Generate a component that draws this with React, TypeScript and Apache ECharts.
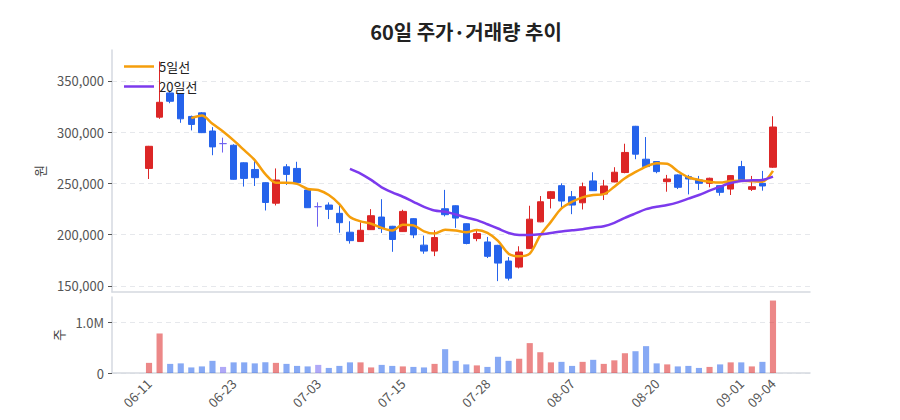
import React from 'react';
import * as echarts from 'echarts';

const dates = [
  '06-11', '06-12', '06-13', '06-16', '06-17', '06-18', '06-19', '06-20', '06-23', '06-24',
  '06-25', '06-26', '06-27', '06-30', '07-01', '07-02', '07-03', '07-04', '07-07', '07-08',
  '07-09', '07-10', '07-11', '07-14', '07-15', '07-16', '07-18', '07-21', '07-22', '07-23',
  '07-24', '07-25', '07-28', '07-29', '07-30', '07-31', '08-01', '08-04', '08-05', '08-06',
  '08-07', '08-08', '08-11', '08-12', '08-13', '08-14', '08-18', '08-19', '08-20', '08-21',
  '08-22', '08-25', '08-26', '08-27', '08-28', '08-29', '09-01', '09-02', '09-03', '09-04',
];

const opens = [
  264500, 314500, 338100, 337100, 315200, 318700, 301000, 288700, 287100, 270000,
  263500, 250600, 230600, 266100, 264500, 243500, 227200, 228800, 220700, 202300,
  193200, 204800, 217100, 208100, 202900, 215500, 189700, 183900, 225200, 228100,
  210600, 196100, 192800, 189500, 174200, 168300, 186300, 212400, 235300, 247700,
  236900, 231000, 252300, 239500, 251300, 260500, 305600, 273500, 271200, 251600,
  258200, 256500, 253300, 250000, 247700, 244400, 266300, 244100, 250000, 265700,
];
const closes = [
  286100, 329000, 330000, 312900, 307400, 299400, 285500, 288700, 253900, 254800,
  255500, 231300, 253200, 258700, 250600, 226200, 227200, 224600, 211600, 194100,
  204200, 218400, 205800, 195200, 222600, 199700, 183900, 197100, 219400, 216100,
  191300, 201000, 178800, 172200, 157500, 183000, 215000, 232000, 241800, 232700,
  228800, 246700, 242800, 247400, 260800, 280100, 278400, 266300, 261400, 254200,
  246100, 254200, 250000, 254900, 241200, 257500, 252600, 246700, 247400, 304900,
];
const lows = [
  254200, 312900, 328100, 309000, 301600, 299000, 277400, 280000, 253500, 246800,
  247400, 223500, 228400, 248400, 250000, 226000, 207700, 215100, 201800, 191200,
  193000, 204500, 201600, 183200, 202500, 196500, 181300, 179000, 217700, 206500,
  190500, 193500, 177100, 154600, 155200, 167000, 186000, 212000, 225500, 226500,
  219900, 224500, 242500, 233700, 251000, 259800, 273500, 266000, 259800, 241800,
  244400, 239200, 243500, 246100, 237900, 238600, 252000, 242500, 242800, 265000,
];
const highs = [
  286500, 368800, 340300, 338000, 316000, 319400, 304800, 294500, 288100, 270500,
  273900, 251000, 264500, 268700, 271000, 243800, 231400, 231400, 230500, 213000,
  211900, 224800, 234500, 208500, 224200, 216000, 199000, 204200, 243600, 228500,
  211000, 203900, 197700, 190000, 178100, 188600, 228100, 237600, 242500, 250000,
  242500, 250700, 260800, 253300, 265700, 288600, 306000, 295100, 271500, 258200,
  258800, 258200, 257200, 255500, 248000, 258000, 271900, 257200, 262100, 315400,
];

const volumes = [
  200000, 780000, 180000, 190000, 110000, 130000, 240000, 120000, 210000, 210000,
  190000, 210000, 200000, 180000, 140000, 130000, 160000, 100000, 140000, 210000,
  210000, 110000, 160000, 140000, 130000, 120000, 110000, 180000, 470000, 240000,
  170000, 150000, 120000, 320000, 240000, 280000, 590000, 410000, 210000, 220000,
  140000, 220000, 260000, 180000, 250000, 390000, 430000, 530000, 190000, 170000,
  130000, 140000, 100000, 120000, 170000, 210000, 210000, 130000, 220000, 1430000,
];

const ma5 = [
  null, null, null, null, 313500, 316100, 308100, 300600, 291900, 282300,
  272600, 259000, 250600, 250600, 249400, 244500, 243500, 238600, 229800, 217200,
  212900, 210600, 206500, 203900, 209700, 209000, 203200, 201000, 204800, 203900,
  202300, 204500, 201600, 193800, 181400, 178800, 181400, 199300, 212400, 225500,
  232000, 236300, 238600, 239500, 246700, 254900, 261000, 266300, 269600, 269000,
  261800, 255900, 253300, 251600, 250700, 252300, 252600, 252000, 251600, 262100,
];
const ma20 = [
  null, null, null, null, null, null, null, null, null, null,
  null, null, null, null, null, null, null, null, null, 264100,
  259500, 253300, 246100, 241200, 236900, 232000, 227100, 223500, 222200, 219600,
  216700, 214100, 210100, 205900, 201600, 199700, 199700, 200300, 201600, 203100,
  204200, 205200, 206900, 208200, 211400, 216300, 220600, 224800, 227100, 228800,
  231400, 235000, 238600, 242800, 246700, 250300, 252300, 252900, 253300, 256500,
];

const priceTicks = [150000, 200000, 250000, 300000, 350000];
const volumeTicks = [0, 1000000];

const UP = '#dc2626';
const DOWN = '#2563eb';
const FLAT = '#6f63f0';
const FONT = '"Noto Sans CJK KR", "Noto Sans", sans-serif';
const PAD = 3; // empty slots on each side of the date axis

const App = () => {
  const chartRef = React.useRef<HTMLDivElement>(null);

  React.useEffect(() => {
    const myChart = echarts.init(chartRef.current, undefined, { renderer: 'svg' });

    const cats = [...Array(PAD).fill(''), ...dates, ...Array(PAD).fill('')];
    const labelIdx = (i: number) => {
      const k = i - PAD;
      return k >= 0 && k < dates.length && (k % 8 === 0 || k === dates.length - 1);
    };
    const dirColor = (i: number) =>
      closes[i] > opens[i] ? UP : closes[i] < opens[i] ? DOWN : FLAT;

    const candles = dates.map((_, i) => {
      const c = dirColor(i);
      return {
        value: [i + PAD, opens[i], closes[i], lows[i], highs[i]],
        itemStyle: { color: c, color0: c, borderColor: c, borderColor0: c },
      };
    });
    const volBars = volumes.map((v, i) => ({
      value: [i + PAD, v],
      itemStyle: { color: dirColor(i), opacity: 0.55 },
    }));
    const line = (arr: (number | null)[]) =>
      arr.map((v, i) => [i + PAD, v === null ? '-' : v]);

    const axisLineStyle = { color: '#d5d9e0', width: 1.5 };
    const splitStyle = { color: '#e6e8ec', type: [5, 4] as any };
    const tickStyle = { color: '#555' };

    const option: any = {
      animation: false,
      textStyle: { fontFamily: FONT },
      title: {
        text: '60일 주가·거래량 추이',
        left: 453,
        textAlign: 'center',
        top: 8,
        textStyle: { fontSize: 20, fontWeight: 'bold', color: '#222', fontFamily: FONT },
      },
      legend: {
        data: ['5일선', '20일선'],
        orient: 'vertical',
        left: 111,
        top: 47,
        icon: 'rect',
        itemWidth: 30,
        itemHeight: 2.5,
        itemGap: 7,
        textStyle: { fontSize: 13, color: '#222', fontFamily: FONT },
      },
      grid: [
        { left: 104, right: 82, top: 42, height: 242 },
        { left: 104, right: 82, top: 289, height: 76 },
      ],
      xAxis: [
        {
          type: 'category',
          gridIndex: 0,
          data: cats,
          boundaryGap: true,
          axisLine: { lineStyle: axisLineStyle },
          axisTick: { alignWithLabel: true, interval: labelIdx, length: 4, lineStyle: tickStyle },
          axisLabel: { show: false, interval: labelIdx },
          splitLine: { show: false },
        },
        {
          type: 'category',
          gridIndex: 1,
          data: cats,
          boundaryGap: true,
          axisLine: { lineStyle: axisLineStyle },
          axisTick: { alignWithLabel: true, interval: labelIdx, length: 4, lineStyle: tickStyle },
          axisLabel: {
            interval: labelIdx,
            rotate: 45,
            fontSize: 13,
            color: '#555',
            margin: 8,
            fontFamily: FONT,
          },
          splitLine: { show: false },
        },
      ],
      yAxis: [
        {
          type: 'value',
          gridIndex: 0,
          min: 144000,
          max: 380000,
          name: '원',
          nameLocation: 'middle',
          nameGap: 64,
          nameTextStyle: { fontSize: 13, color: '#444', fontFamily: FONT },
          axisLine: { show: true, lineStyle: axisLineStyle },
          axisTick: { show: true, customValues: priceTicks, length: 4, lineStyle: tickStyle },
          axisLabel: {
            customValues: priceTicks,
            fontSize: 13,
            color: '#555',
            fontFamily: FONT,
            formatter: (v: number) => v.toLocaleString('en-US'),
          },
          splitLine: { show: true, lineStyle: splitStyle },
        },
        {
          type: 'value',
          gridIndex: 1,
          min: 0,
          max: 1500000,
          name: '주',
          nameLocation: 'middle',
          nameGap: 40,
          nameTextStyle: { fontSize: 13, color: '#444', fontFamily: FONT },
          axisLine: { show: true, lineStyle: axisLineStyle },
          axisTick: { show: true, customValues: volumeTicks, length: 4, lineStyle: tickStyle },
          axisLabel: {
            customValues: volumeTicks,
            fontSize: 13,
            color: '#555',
            fontFamily: FONT,
            formatter: (v: number) => (v === 0 ? '0' : (v / 1000000).toFixed(1) + 'M'),
          },
          splitLine: { show: true, lineStyle: splitStyle },
        },
      ],
      series: [
        {
          name: '주가',
          type: 'candlestick',
          xAxisIndex: 0,
          yAxisIndex: 0,
          barWidth: '66%',
          encode: { x: 0, y: [1, 2, 3, 4] },
          data: candles,
        },
        {
          name: '5일선',
          type: 'line',
          xAxisIndex: 0,
          yAxisIndex: 0,
          data: line(ma5),
          smooth: 0.3,
          symbol: 'none',
          color: '#f59e0b',
          lineStyle: { width: 2.5, color: '#f59e0b' },
        },
        {
          name: '20일선',
          type: 'line',
          xAxisIndex: 0,
          yAxisIndex: 0,
          data: line(ma20),
          smooth: 0.3,
          symbol: 'none',
          color: '#7c3aed',
          lineStyle: { width: 2.5, color: '#7c3aed' },
        },
        {
          name: '거래량',
          type: 'bar',
          xAxisIndex: 1,
          yAxisIndex: 1,
          barWidth: '58%',
          data: volBars,
        },
      ],
    };

    myChart.setOption(option);

    return () => {
      myChart.dispose();
    };
  }, []);

  return <div ref={chartRef} style={{ width: '884px', height: '404px' }} />;
};

export default App;
